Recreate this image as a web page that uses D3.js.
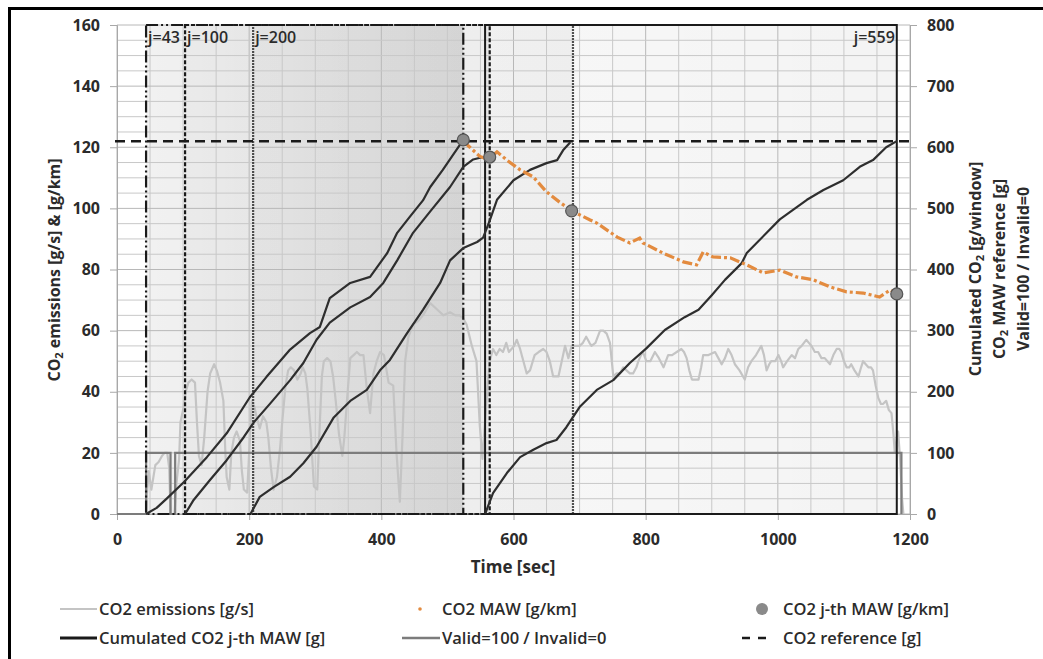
<!DOCTYPE html>
<html lang="en">
<head>
<meta charset="utf-8">
<title>CO2 moving averaging windows</title>
<script src="https://cdn.jsdelivr.net/npm/d3@7"></script>
<style>
  body { margin: 0; background: #fff; }
  svg text { font-family: "Open Sans", "DejaVu Sans", sans-serif; fill: #2b2b2b; }
</style>
</head>
<body>
<div id="chart"></div>
<script>
// ---- data ----
// time axis [sec], left axis [g/s] & [g/km], right axis [g]
var xTicks = [0, 200, 400, 600, 800, 1000, 1200];
var yLeftTicks = [0, 20, 40, 60, 80, 100, 120, 140, 160];
var yRightTicks = [0, 100, 200, 300, 400, 500, 600, 700, 800];

// CO2 emissions (light grey trace, left axis)
var emisTime = [44,45,48,52,55,58,63,68,72,76,79,81,87,90,94,96,100,104,108,113,118,121,124,128,132,137,141,147,151,156,161,164,166,170,173,177,181,186,189,192,197,200,204,208,211,216,221,226,229,233,237,242,247,250,255,259,263,268,273,278,281,285,288,293,298,303,306,310,313,318,323,327,331,336,341,344,348,353,358,363,368,373,378,383,388,393,398,404,411,418,423,428,432,436,441,448,455,463,474,484,494,504,512,519,524,529,537,544,549,553,560,564,569,574,579,584,589,593,597,601,605,610,615,620,625,632,638,645,650,655,660,668,673,678,683,688,694,700,705,710,715,718,724,731,736,741,746,751,756,761,766,771,776,781,786,789,793,796,801,807,814,820,827,834,840,847,854,858,862,866,870,875,880,884,887,895,905,910,915,920,925,930,935,942,950,955,960,967,975,979,983,987,990,996,1001,1005,1008,1014,1021,1026,1031,1036,1043,1047,1051,1056,1061,1066,1071,1075,1079,1084,1089,1093,1096,1100,1104,1108,1111,1116,1122,1126,1129,1133,1137,1141,1144,1148,1152,1156,1159,1164,1168,1172,1175,1177,1180,1182,1185,1188,1190];
var emisValue = [0,6,14,8,12,16,17,19,20,20,15,0,0,10,18,30,34,40,43,44,43,30,19,16,25,40,46,49,47,43,37,20,12,8,20,25,27,24,14,8,7,20,37,35,32,28,32,30,25,15,8,12,22,30,42,47,48,47,44,46,48,46,41,27,9,8,25,45,50,51,50,45,37,26,19,25,37,51,52,53,52,52,41,33,46,50,53,52,43,42,20,4,25,50,58,62,63,65,69,67,65,66,65,65,64,62,55,50,29,18,40,50,54,52,54,53,56,53,54,55,57,54,50,46,47,52,53,54,53,50,45,45,50,55,51,55,55,55,56,58,56,55,56,60,60,59,56,45,46,46,48,47,46,46,48,50,52,53,50,50,53,51,48,52,52,53,54,53,51,47,44,44,44,48,52,52,53,51,49,51,54,52,49,47,44,48,50,52,55,52,47,49,50,50,52,50,48,50,52,51,54,55,57,56,55,53,53,51,51,50,49,52,54,54,53,50,48,48,49,47,45,48,50,49,48,48,47,42,38,36,36,37,34,33,26,20,25,27,18,5,0];

// Valid=100 / Invalid=0 (right axis)
var validTime = [0, 44, 44, 81, 81, 88, 88, 1187, 1187];
var validValue = [0, 0, 100, 100, 0, 0, 100, 100, 0];

// averaging windows j: start / end time
var windowLabels = ["j=43", "j=100", "j=200", "j=559"];
var windowStart = [44, 103, 206, 557];
var windowEnd = [524, 564, 690, 1180];

// cumulated CO2 of the j-th window (right axis, g)
var cum43Time = [44,60,76,101,136,166,201,226,261,292,307,322,353,383,409,424,443,463,474,493,524];
var cum43Value = [0,10,26,52,93,132,191,224,268,296,306,353,378,388,427,460,486,513,535,563,612];
var cum100Time = [103,116,141,166,192,207,232,262,282,302,322,353,383,403,424,448,474,504,524,539,554,562];
var cum100Value = [0,23,56,88,126,150,181,219,247,285,313,338,355,378,415,460,495,535,568,580,584,585];
var cum200Time = [202,216,237,262,282,302,328,353,378,398,413,439,463,489,504,524,545,554,564,575,600,625,650,666,675,686];
var cum200Value = [0,28,44,61,83,110,158,185,203,235,252,296,334,378,415,435,445,452,480,514,546,563,574,579,595,608];
var cum559Time = [557,569,590,610,630,650,665,680,700,726,751,776,801,829,859,880,900,920,945,953,1003,1044,1069,1099,1124,1144,1164,1180];
var cum559Value = [0,34,67,93,105,116,121,142,175,203,219,247,271,301,322,334,358,383,410,427,482,514,530,546,568,579,600,610];

// CO2 MAW (orange, left axis, g/km)
var mawTime = [524,534,549,562,575,590,610,630,650,670,688,716,726,757,776,791,796,826,857,877,887,902,928,953,978,1003,1028,1054,1079,1104,1129,1154,1170,1180];
var mawValue = [122,120,117,116,118.5,115.8,112.6,110.3,105.4,102,99.2,96.2,95.2,90.6,88.7,90.3,88.7,85.4,82.5,81.5,85.7,84.1,83.8,81.5,78.9,79.8,77.6,76.6,74.3,72.7,72.3,71,73.3,72];

// CO2 j-th MAW (grey dots, left axis)
var jthTime = [524, 564, 688, 1180];
var jthValue = [122.4, 116.8, 99.2, 72];

// CO2 reference (right axis, g)
var co2Reference = 610;

// ---- layout ----
var width = 1043, height = 659;
var plotLeft = 117, plotRight = 910, plotTop = 25, plotBottom = 514;

var svg = d3.select("#chart").append("svg")
    .attr("width", width)
    .attr("height", height);

var x = d3.scaleLinear().domain([0, 1200]).range([plotLeft, plotRight]);
var yL = d3.scaleLinear().domain([0, 160]).range([plotBottom, plotTop]);
var yR = d3.scaleLinear().domain([0, 800]).range([plotBottom, plotTop]);

// window shading gradients (light on the left, darker to the right)
var defs = svg.append("defs");
var shade = [[0.055, 0.11], [0.02, 0.04], [0.015, 0.035], [0.03, 0.045]];
shade.forEach(function(s, i) {
  var g = defs.append("linearGradient").attr("id", "win" + i)
      .attr("x1", 0).attr("x2", 1).attr("y1", 0).attr("y2", 0);
  g.append("stop").attr("offset", "0%").attr("stop-color", "#000").attr("stop-opacity", s[0]);
  g.append("stop").attr("offset", "100%").attr("stop-color", "#000").attr("stop-opacity", s[1]);
});

svg.selectAll("rect.win").data(windowStart).enter().append("rect")
    .attr("class", "win")
    .attr("x", function(d) { return x(d); })
    .attr("y", yL(160))
    .attr("width", function(d, i) { return x(windowEnd[i]) - x(d); })
    .attr("height", yL(0) - yL(160))
    .attr("fill", function(d, i) { return "url(#win" + i + ")"; });

// grid: every 50 s and every 5 units of the left axis
var grid = svg.append("g");
grid.selectAll("line.v").data(d3.range(0, 1201, 50)).enter().append("line")
    .attr("x1", function(d) { return x(d); }).attr("x2", function(d) { return x(d); })
    .attr("y1", plotTop).attr("y2", plotBottom)
    .attr("stroke", function(d) { return d % 200 === 0 ? "#b8b8b8" : "#c8c8c8"; })
    .attr("stroke-width", 1);
grid.selectAll("line.h").data(d3.range(0, 161, 5)).enter().append("line")
    .attr("x1", plotLeft).attr("x2", plotRight)
    .attr("y1", function(d) { return yL(d); }).attr("y2", function(d) { return yL(d); })
    .attr("stroke", function(d) { return d % 20 === 0 ? "#b8b8b8" : "#c8c8c8"; })
    .attr("stroke-width", 1);

// axes
var axisL = svg.append("g").attr("transform", "translate(" + plotLeft + ",0)")
    .call(d3.axisLeft(yL).tickValues(yLeftTicks).tickSize(7).tickPadding(10));
var axisR = svg.append("g").attr("transform", "translate(" + plotRight + ",0)")
    .call(d3.axisRight(yR).tickValues(yRightTicks).tickSize(7).tickPadding(10));
var axisB = svg.append("g").attr("transform", "translate(0," + plotBottom + ")")
    .call(d3.axisBottom(x).tickValues(xTicks).tickFormat(d3.format("d")).tickSize(6).tickPadding(14));
[axisL, axisR, axisB].forEach(function(a) {
  a.select(".domain").attr("stroke", "#a8a8a8");
  a.selectAll(".tick line").attr("stroke", "#a8a8a8");
  a.selectAll(".tick text").attr("font-size", 16).attr("font-weight", 700)
      .attr("font-family", '"Open Sans", sans-serif').attr("fill", "#2b2b2b");
});

// line builders
var lineL = function(t, v) {
  return d3.line().x(function(d) { return x(t[d]); }).y(function(d) { return yL(v[d]); })(d3.range(t.length));
};
var lineR = function(t, v) {
  return d3.line().x(function(d) { return x(t[d]); }).y(function(d) { return yR(v[d]); })(d3.range(t.length));
};

// emissions and valid flag
svg.append("path").attr("d", lineL(emisTime, emisValue))
    .attr("fill", "none").attr("stroke", "#c4c4c4").attr("stroke-width", 2.2)
    .attr("stroke-linejoin", "round");
svg.append("path").attr("d", lineR(validTime, validValue))
    .attr("fill", "none").attr("stroke", "#7c7c7c").attr("stroke-width", 2.2);

// window borders
var dashes = ["12,3,2,3,2,3", "4,2", "1.5,1.5", null];
windowStart.forEach(function(s, i) {
  svg.append("rect")
      .attr("x", x(s)).attr("y", yL(160))
      .attr("width", x(windowEnd[i]) - x(s))
      .attr("height", yL(0) - yL(160))
      .attr("fill", "none").attr("stroke", "#1a1a1a")
      .attr("stroke-width", i === 3 ? 2 : 2.2)
      .attr("stroke-dasharray", dashes[i]);
});

// reference line
svg.append("line")
    .attr("x1", plotLeft - 2).attr("x2", plotRight)
    .attr("y1", yR(co2Reference)).attr("y2", yR(co2Reference))
    .attr("stroke", "#1a1a1a").attr("stroke-width", 2.5).attr("stroke-dasharray", "10,6");

// cumulated lines
[[cum43Time, cum43Value], [cum100Time, cum100Value], [cum200Time, cum200Value], [cum559Time, cum559Value]]
  .forEach(function(c) {
    svg.append("path").attr("d", lineR(c[0], c[1]))
        .attr("fill", "none").attr("stroke", "#2e2e2e").attr("stroke-width", 2.2)
        .attr("stroke-linejoin", "round");
  });

// MAW orange
svg.append("path").attr("d", lineL(mawTime, mawValue))
    .attr("fill", "none").attr("stroke", "#e38b3f").attr("stroke-width", 3.2)
    .attr("stroke-dasharray", "10,3,3,3");

// j-th MAW dots
svg.selectAll("circle.jth").data(jthTime).enter().append("circle")
    .attr("class", "jth")
    .attr("cx", function(d) { return x(d); })
    .attr("cy", function(d, i) { return yL(jthValue[i]); })
    .attr("r", 6)
    .attr("fill", "#8a8a8a").attr("stroke", "#555").attr("stroke-width", 1.2);

// window labels
svg.selectAll("text.jl").data(windowLabels).enter().append("text")
    .attr("class", "jl")
    .attr("x", function(d, i) { return i === 3 ? x(windowEnd[i]) - 2 : x(windowStart[i]) + 2; })
    .attr("y", 43)
    .attr("text-anchor", function(d, i) { return i === 3 ? "end" : "start"; })
    .attr("font-size", 16).attr("font-weight", 600)
    .text(function(d) { return d; });

// axis titles
var tl = svg.append("text")
    .attr("transform", "translate(54,270) rotate(-90)")
    .attr("text-anchor", "middle").attr("dominant-baseline", "central")
    .attr("font-size", 16).attr("font-weight", 700);
tl.append("tspan").text("CO");
tl.append("tspan").attr("font-size", 11).attr("dy", 4).text("2");
tl.append("tspan").attr("dy", -4).text(" emissions [g/s] & [g/km]");

var rTitles = [["Cumulated CO", "2", " [g/window]"], ["CO", "2", " MAW reference [g]"], ["Valid=100 / Invalid=0"]];
var rX = [975, 999, 1023];
rTitles.forEach(function(parts, i) {
  var t = svg.append("text")
      .attr("transform", "translate(" + rX[i] + ",269) rotate(-90)")
      .attr("text-anchor", "middle").attr("dominant-baseline", "central")
      .attr("font-size", 16).attr("font-weight", 700);
  t.append("tspan").text(parts[0]);
  if (parts.length > 1) {
    t.append("tspan").attr("font-size", 11).attr("dy", 4).text(parts[1]);
    t.append("tspan").attr("dy", -4).text(parts[2]);
  }
});

svg.append("text").attr("x", 513).attr("y", 573)
    .attr("text-anchor", "middle").attr("font-size", 17).attr("font-weight", 700)
    .text("Time [sec]");

// legend
var legend = svg.append("g");
function legText(xp, yp, s) {
  legend.append("text").attr("x", xp).attr("y", yp + 6).attr("font-size", 16.5).attr("font-weight", 600).text(s);
}
legend.append("line").attr("x1", 60).attr("x2", 97).attr("y1", 609).attr("y2", 609)
    .attr("stroke", "#c4c4c4").attr("stroke-width", 2);
legText(99, 609, "CO2 emissions [g/s]");
legend.append("circle").attr("cx", 420).attr("cy", 609).attr("r", 1.8).attr("fill", "#e38b3f");
legText(442, 609, "CO2 MAW [g/km]");
legend.append("circle").attr("cx", 762).attr("cy", 609).attr("r", 6).attr("fill", "#8a8a8a");
legText(783, 609, "CO2 j-th MAW [g/km]");
legend.append("line").attr("x1", 60).attr("x2", 97).attr("y1", 638).attr("y2", 638)
    .attr("stroke", "#1a1a1a").attr("stroke-width", 2.8);
legText(99, 638, "Cumulated CO2 j-th MAW [g]");
legend.append("line").attr("x1", 402).attr("x2", 440).attr("y1", 638).attr("y2", 638)
    .attr("stroke", "#7c7c7c").attr("stroke-width", 2.5);
legText(442, 638, "Valid=100 / Invalid=0");
legend.append("line").attr("x1", 742).attr("x2", 774).attr("y1", 638).attr("y2", 638)
    .attr("stroke", "#1a1a1a").attr("stroke-width", 2.5).attr("stroke-dasharray", "8,8");
legText(783, 638, "CO2 reference [g]");

// picture frame
svg.append("path").attr("d", "M9.5,659 V8.5 H1043")
    .attr("fill", "none").attr("stroke", "#000").attr("stroke-width", 3);
</script>
</body>
</html>
